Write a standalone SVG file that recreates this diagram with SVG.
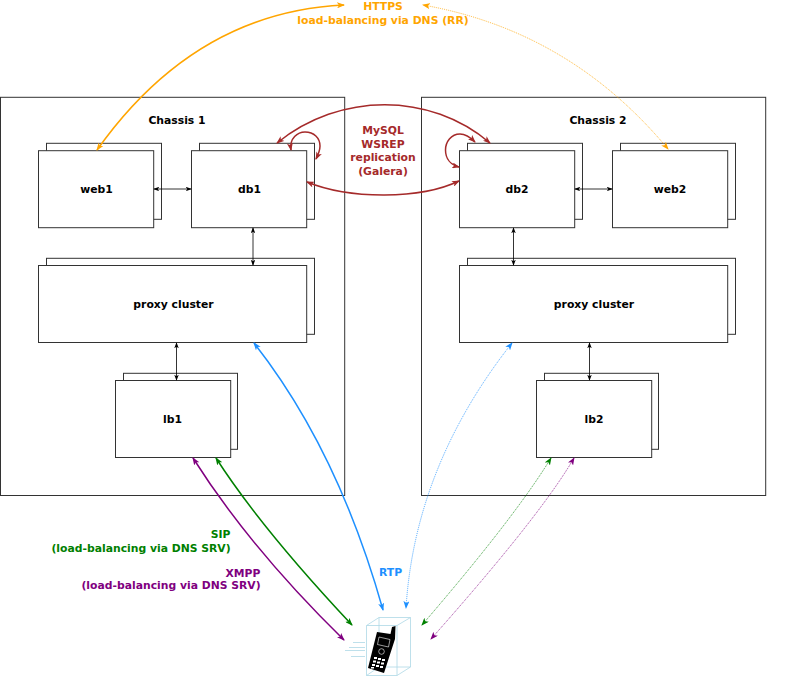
<svg xmlns="http://www.w3.org/2000/svg" width="800" height="676" viewBox="0 0 800 676">
<style>
text{font-family:"DejaVu Sans",sans-serif;font-weight:bold;font-size:10.8px;text-anchor:middle}
.box{fill:#fff;stroke:#333;stroke-width:1}
.chassis{fill:none;stroke:#333;stroke-width:1}
.c{fill:none}
.k{stroke:#000;stroke-width:.8;marker-start:url(#ak);marker-end:url(#ak)}
.o{stroke:#ffa500;stroke-width:1.5;marker-start:url(#ao);marker-end:url(#ao)}
.od{stroke:#ffa500;stroke-width:.8;stroke-dasharray:1 1;marker-start:url(#ao);marker-end:url(#ao)}
.r{stroke:#a52a2a;stroke-width:1.5;marker-start:url(#ar);marker-end:url(#ar)}
.b{stroke:#1e90ff;stroke-width:1.5;marker-start:url(#ab);marker-end:url(#ab)}
.bd{stroke:#1e90ff;stroke-width:.8;stroke-dasharray:1 1;marker-start:url(#ab);marker-end:url(#ab)}
.g{stroke:#008000;stroke-width:1.5;marker-start:url(#ag);marker-end:url(#ag)}
.gd{stroke:#008000;stroke-width:.8;stroke-dasharray:1 1;marker-start:url(#ag);marker-end:url(#ag)}
.p{stroke:#800080;stroke-width:1.5;marker-start:url(#ap);marker-end:url(#ap)}
.pd{stroke:#800080;stroke-width:.8;stroke-dasharray:1 1;marker-start:url(#ap);marker-end:url(#ap)}
.w{stroke:#add8e6;stroke-width:.8;fill:none}
</style>
<defs>
<marker id="ak" viewBox="0 0 8 6" refX="7" refY="3" markerWidth="6" markerHeight="4.5" markerUnits="userSpaceOnUse" orient="auto-start-reverse"><path d="M0 0L8 3L0 6L2 3z" fill="#000"/></marker>
<marker id="ao" viewBox="0 0 8 6" refX="7" refY="3" markerWidth="8" markerHeight="6" markerUnits="userSpaceOnUse" orient="auto-start-reverse"><path d="M0 0L8 3L0 6L2 3z" fill="#ffa500"/></marker>
<marker id="ar" viewBox="0 0 8 6" refX="7" refY="3" markerWidth="8" markerHeight="6" markerUnits="userSpaceOnUse" orient="auto-start-reverse"><path d="M0 0L8 3L0 6L2 3z" fill="#a52a2a"/></marker>
<marker id="ab" viewBox="0 0 8 6" refX="7" refY="3" markerWidth="8" markerHeight="6" markerUnits="userSpaceOnUse" orient="auto-start-reverse"><path d="M0 0L8 3L0 6L2 3z" fill="#1e90ff"/></marker>
<marker id="ag" viewBox="0 0 8 6" refX="7" refY="3" markerWidth="8" markerHeight="6" markerUnits="userSpaceOnUse" orient="auto-start-reverse"><path d="M0 0L8 3L0 6L2 3z" fill="#008000"/></marker>
<marker id="ap" viewBox="0 0 8 6" refX="7" refY="3" markerWidth="8" markerHeight="6" markerUnits="userSpaceOnUse" orient="auto-start-reverse"><path d="M0 0L8 3L0 6L2 3z" fill="#800080"/></marker>
</defs>
<g id="chassis1"><rect class="chassis" x="0.5" y="97.3" width="344.2" height="398.200"/><text x="177" y="124">Chassis 1</text></g>
<g id="chassis2"><rect class="chassis" x="421.5" y="97.3" width="344.200" height="398.200"/><text x="598" y="124">Chassis 2</text></g>
<g id="web1"><rect class="box" x="46.5" y="143.300" width="115" height="76"/><rect class="box" x="38.5" y="150.700" width="115.200" height="77"/><text x="96.500" y="193">web1</text></g>
<g id="db1"><rect class="box" x="199.500" y="143.300" width="115" height="76"/><rect class="box" x="191.500" y="150.700" width="115.200" height="77"/><text x="249.500" y="193">db1</text></g>
<g id="proxy1"><rect class="box" x="46.500" y="258.300" width="268" height="76"/><rect class="box" x="38.500" y="265.500" width="268.200" height="77"/><text x="173.500" y="308">proxy cluster</text></g>
<g id="lb1"><rect class="box" x="123.500" y="373.300" width="114" height="76"/><rect class="box" x="115.500" y="380.500" width="115.200" height="77"/><text x="172.500" y="423">lb1</text></g>
<g id="db2"><rect class="box" x="467.500" y="143.300" width="115" height="76"/><rect class="box" x="459.500" y="150.700" width="115.200" height="77"/><text x="517" y="193">db2</text></g>
<g id="web2"><rect class="box" x="620.500" y="143.300" width="115" height="76"/><rect class="box" x="612.500" y="150.700" width="115.200" height="77"/><text x="670" y="193">web2</text></g>
<g id="proxy2"><rect class="box" x="467.500" y="258.300" width="268" height="76"/><rect class="box" x="459.500" y="265.500" width="268.200" height="77"/><text x="594" y="308">proxy cluster</text></g>
<g id="lb2"><rect class="box" x="544.500" y="373.300" width="114" height="76"/><rect class="box" x="536.500" y="380.500" width="115.200" height="77"/><text x="594" y="423">lb2</text></g>
<g id="connectors" class="c">
<path class="c k" d="M154 189H191"/>
<path class="c k" d="M253 228V265"/>
<path class="c k" d="M176.500 343V380"/>
<path class="c k" d="M575 189H612"/>
<path class="c k" d="M513.500 228V265"/>
<path class="c k" d="M589.500 343V380"/>
<path class="c o" d="M97 150Q195 12 344 5"/>
<path class="c od" d="M668 149Q570 31 423 5"/>
<path class="c r" d="M277 143C340 92 430 92 490 143"/>
<path class="c r" d="M307 182C350 199.500 420 199.500 459 181"/>
<path class="c r" d="M291 150C289 138 298 132 305 132C314 132 320 138 320 146C320 151 318 155 316 159"/>
<path class="c r" d="M475 142C470 137 465 134 460 134C451 134 445.500 142 445.500 150C445.500 159 451 165 459 167"/>
<path class="c b" d="M254 343Q338 450 383 610"/>
<path class="c bd" d="M512 343Q415 466 406 608"/>
<path class="c g" d="M216 458Q261 528 352 625"/>
<path class="c p" d="M193 458Q250 548 344 640"/>
<path class="c gd" d="M551 458Q515 517 422 625"/>
<path class="c pd" d="M574 458Q541 515 431 639"/>
</g>
<g id="labels">
<text x="383" y="10" fill="#ffa500">HTTPS</text>
<text x="383" y="24" fill="#ffa500">load-balancing via DNS (RR)</text>
<text x="383" y="134" fill="#a52a2a">MySQL</text>
<text x="383" y="148" fill="#a52a2a">WSREP</text>
<text x="383" y="161" fill="#a52a2a">replication</text>
<text x="383" y="175" fill="#a52a2a">(Galera)</text>
<text x="220.500" y="538" fill="#008000">SIP</text>
<text x="141" y="552" fill="#008000">(load-balancing via DNS SRV)</text>
<text x="243" y="577" fill="#800080">XMPP</text>
<text x="171" y="589" fill="#800080">(load-balancing via DNS SRV)</text>
<text x="390.500" y="576" fill="#1e90ff">RTP</text>
</g>
<g id="phone">
<path class="w" d="M366.500 625.500H397V675.500H366.500zM366.500 625.500L379 617.500H410.500V667L397 675.500M397 625.500L410.500 617.500M379 617.500V667H410.500M366.500 675.500L379 667"/>
<path class="w" d="M353 642.500H365M349 647.500H365M345 650.500H365M351 656.500H365"/>
<path d="M377 632L390.500 634L392 627L395.500 626L395 639L384 673L368 668L372.500 650z" fill="#000"/>
<path d="M379 637L390 639.500L388.500 647L377.500 644.500z" fill="none" stroke="#fff" stroke-width=".6"/>
<circle cx="381.500" cy="651.500" r="2.800" fill="none" stroke="#fff" stroke-width=".6"/>
<path d="M374 657h3v2h-3zM378 658h3v2h-3zM382 659h3v2h-3zM373 660.500h3v2h-3zM377 661.500h3v2h-3zM381 662.500h3v2h-3zM372 664h3v2h-3zM376 665h3v2h-3zM380 666h3v2h-3zM371 667h3v1.500h-3z" fill="#fff"/>
</g>
</svg>
